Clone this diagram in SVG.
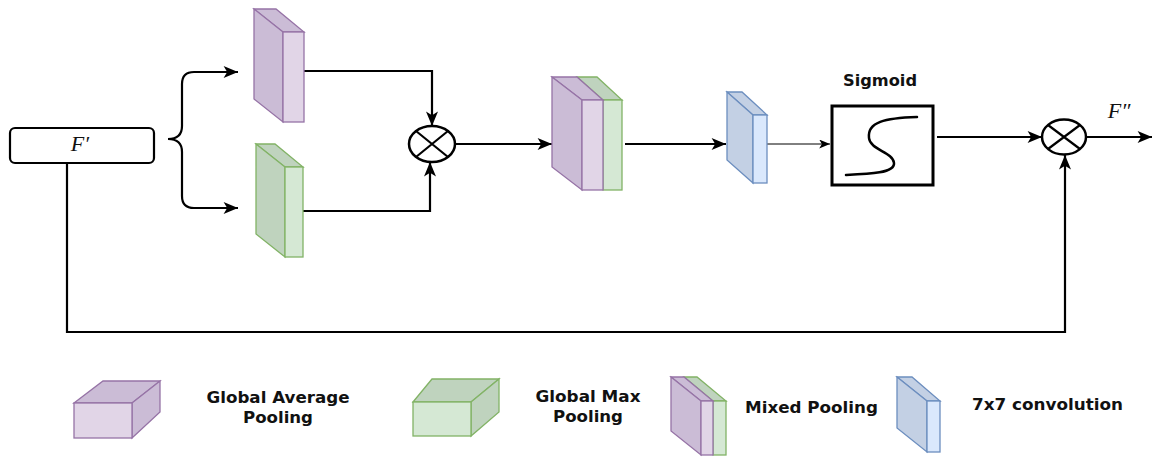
<svg xmlns="http://www.w3.org/2000/svg" width="1153" height="457" viewBox="0 0 1153 457">
<style>
.ln{fill:none;stroke:#000;stroke-width:2.2}
.thin{fill:none;stroke:#000;stroke-width:1}
.pf{fill:#e1d5e7;stroke:#9673a6;stroke-width:1.3}
.pd{fill:#cbbcd6;stroke:#9673a6;stroke-width:1.3}
.gf{fill:#d5e8d4;stroke:#82b366;stroke-width:1.3}
.gd{fill:#bfd3be;stroke:#82b366;stroke-width:1.3}
.bf{fill:#dae8fc;stroke:#6c8ebf;stroke-width:1.3}
.bd{fill:#c3d0e4;stroke:#6c8ebf;stroke-width:1.3}
.lbl{font-family:"DejaVu Sans",sans-serif;font-weight:bold;font-size:16px;fill:#111}
.math{font-family:"Liberation Serif",serif;font-style:italic;font-size:22px;fill:#111}
</style>
<defs>
<marker id="arr" viewBox="0 0 12 10" markerWidth="15" markerHeight="12" refX="12" refY="5" orient="auto" markerUnits="userSpaceOnUse">
<path d="M0,0 L12,5 L0,10 L3,5 Z" fill="#000"/>
</marker>
<marker id="arrs" viewBox="0 0 12 10" markerWidth="11" markerHeight="9" refX="12" refY="5" orient="auto" markerUnits="userSpaceOnUse">
<path d="M0,0 L12,5 L0,10 L3,5 Z" fill="#000"/>
</marker>
</defs>

<g id="connectors">
<path class="ln" d="M168,139 Q182,139 182,126 L182,84 Q182,72 194,72 L238,72" marker-end="url(#arr)"/>
<path class="ln" d="M168,139 Q182,139 182,152 L182,196 Q182,208 194,208 L238,208" marker-end="url(#arr)"/>
<path class="ln" d="M302,71 L432,71 L432,126" marker-end="url(#arr)"/>
<path class="ln" d="M303,211 L430,211 L430,162" marker-end="url(#arr)"/>
<path class="ln" d="M455,144 L552,144" marker-end="url(#arr)"/>
<path class="ln" d="M625,144 L726,144" marker-end="url(#arr)"/>
<path class="thin" d="M752,144 L830,144" marker-end="url(#arrs)"/>
<path class="ln" d="M937,137 L1042,137" marker-end="url(#arr)"/>
<path class="ln" d="M1086,137 L1152,137" marker-end="url(#arr)"/>
<path class="ln" d="M67,163 L67,332 L1065,332 L1065,155" marker-end="url(#arr)"/>
</g>

<g id="fprime">
<rect x="10" y="128" width="144" height="35" rx="5" fill="#fff" stroke="#000" stroke-width="2.2"/>
<text class="math" x="80" y="151" text-anchor="middle">F′</text>
</g>

<g id="avgpool">
<polygon class="pd" points="254,9 276,9 304,32 283,32"/>
<polygon class="pd" points="254,9 283,32 283,122 254,99"/>
<rect class="pf" x="283" y="32" width="21" height="90"/>
</g>

<g id="maxpool">
<polygon class="gd" points="256,144 275,144 303,167 285,167"/>
<polygon class="gd" points="256,144 285,167 285,257 256,234"/>
<rect class="gf" x="285" y="167" width="18" height="90"/>
</g>

<g id="mult1">
<ellipse cx="432" cy="144" rx="23" ry="18" fill="#fff" stroke="#000" stroke-width="2.5"/>
<path class="ln" d="M416,131 L448,157 M448,131 L416,157"/>
</g>

<g id="mixedpool">
<polygon class="gd" points="577,77 597,77 622,100 603,100"/>
<rect class="gf" x="603" y="100" width="19" height="90"/>
<polygon class="pd" points="552,77 577,77 603,100 582,100"/>
<polygon class="pd" points="552,77 582,100 582,190 552,167"/>
<rect class="pf" x="582" y="100" width="21" height="90"/>
</g>

<g id="conv7">
<polygon class="bd" points="727,92 742,92 767,115 753,115"/>
<polygon class="bd" points="727,92 753,115 753,183 727,160"/>
<rect class="bf" x="753" y="115" width="14" height="68"/>
</g>

<g id="sigmoid">
<text class="lbl" x="880" y="86" text-anchor="middle" textLength="74" lengthAdjust="spacingAndGlyphs">Sigmoid</text>
<rect x="832" y="106" width="101" height="79" fill="#fff" stroke="#000" stroke-width="3"/>
<path d="M917,117 C885,118 867,122 869,138 C870,150 893,152 894,163 C895,173 870,174 846,175" fill="none" stroke="#000" stroke-width="2.5" stroke-linecap="round"/>
</g>

<g id="mult2">
<ellipse cx="1064" cy="137" rx="22" ry="17.5" fill="#fff" stroke="#000" stroke-width="2.5"/>
<path class="ln" d="M1048,125 L1080,149 M1080,125 L1048,149"/>
<text class="math" x="1119" y="118" text-anchor="middle">F″</text>
</g>

<g id="legend-avg">
<polygon class="pd" points="74,403 103,381 160,381 132,403"/>
<polygon class="pd" points="132,403 160,381 160,412 132,438"/>
<rect class="pf" x="74" y="403" width="58" height="35"/>
<text class="lbl" x="278" y="403" text-anchor="middle" textLength="143" lengthAdjust="spacingAndGlyphs">Global Average</text>
<text class="lbl" x="278" y="423" text-anchor="middle" textLength="70" lengthAdjust="spacingAndGlyphs">Pooling</text>
</g>

<g id="legend-max">
<polygon class="gd" points="413,402 432,379 499,379 471,402"/>
<polygon class="gd" points="471,402 499,379 499,412 471,436"/>
<rect class="gf" x="413" y="402" width="58" height="34"/>
<text class="lbl" x="588" y="402" text-anchor="middle" textLength="105" lengthAdjust="spacingAndGlyphs">Global Max</text>
<text class="lbl" x="588" y="422" text-anchor="middle" textLength="70" lengthAdjust="spacingAndGlyphs">Pooling</text>
</g>

<g id="legend-mixed">
<polygon class="gd" points="684,377 697,377 726,401 713,401"/>
<rect class="gf" x="713" y="401" width="13" height="54"/>
<polygon class="pd" points="671,377 684,377 713,401 701,401"/>
<polygon class="pd" points="671,377 701,401 701,455 671,431"/>
<rect class="pf" x="701" y="401" width="12" height="54"/>
<text class="lbl" x="745" y="413" textLength="133" lengthAdjust="spacingAndGlyphs">Mixed Pooling</text>
</g>

<g id="legend-conv">
<polygon class="bd" points="897,377 912,377 940,401 927,401"/>
<polygon class="bd" points="897,377 927,401 927,452 897,428"/>
<rect class="bf" x="927" y="401" width="13" height="51"/>
<text class="lbl" x="972" y="410" textLength="151" lengthAdjust="spacingAndGlyphs">7x7 convolution</text>
</g>
</svg>
